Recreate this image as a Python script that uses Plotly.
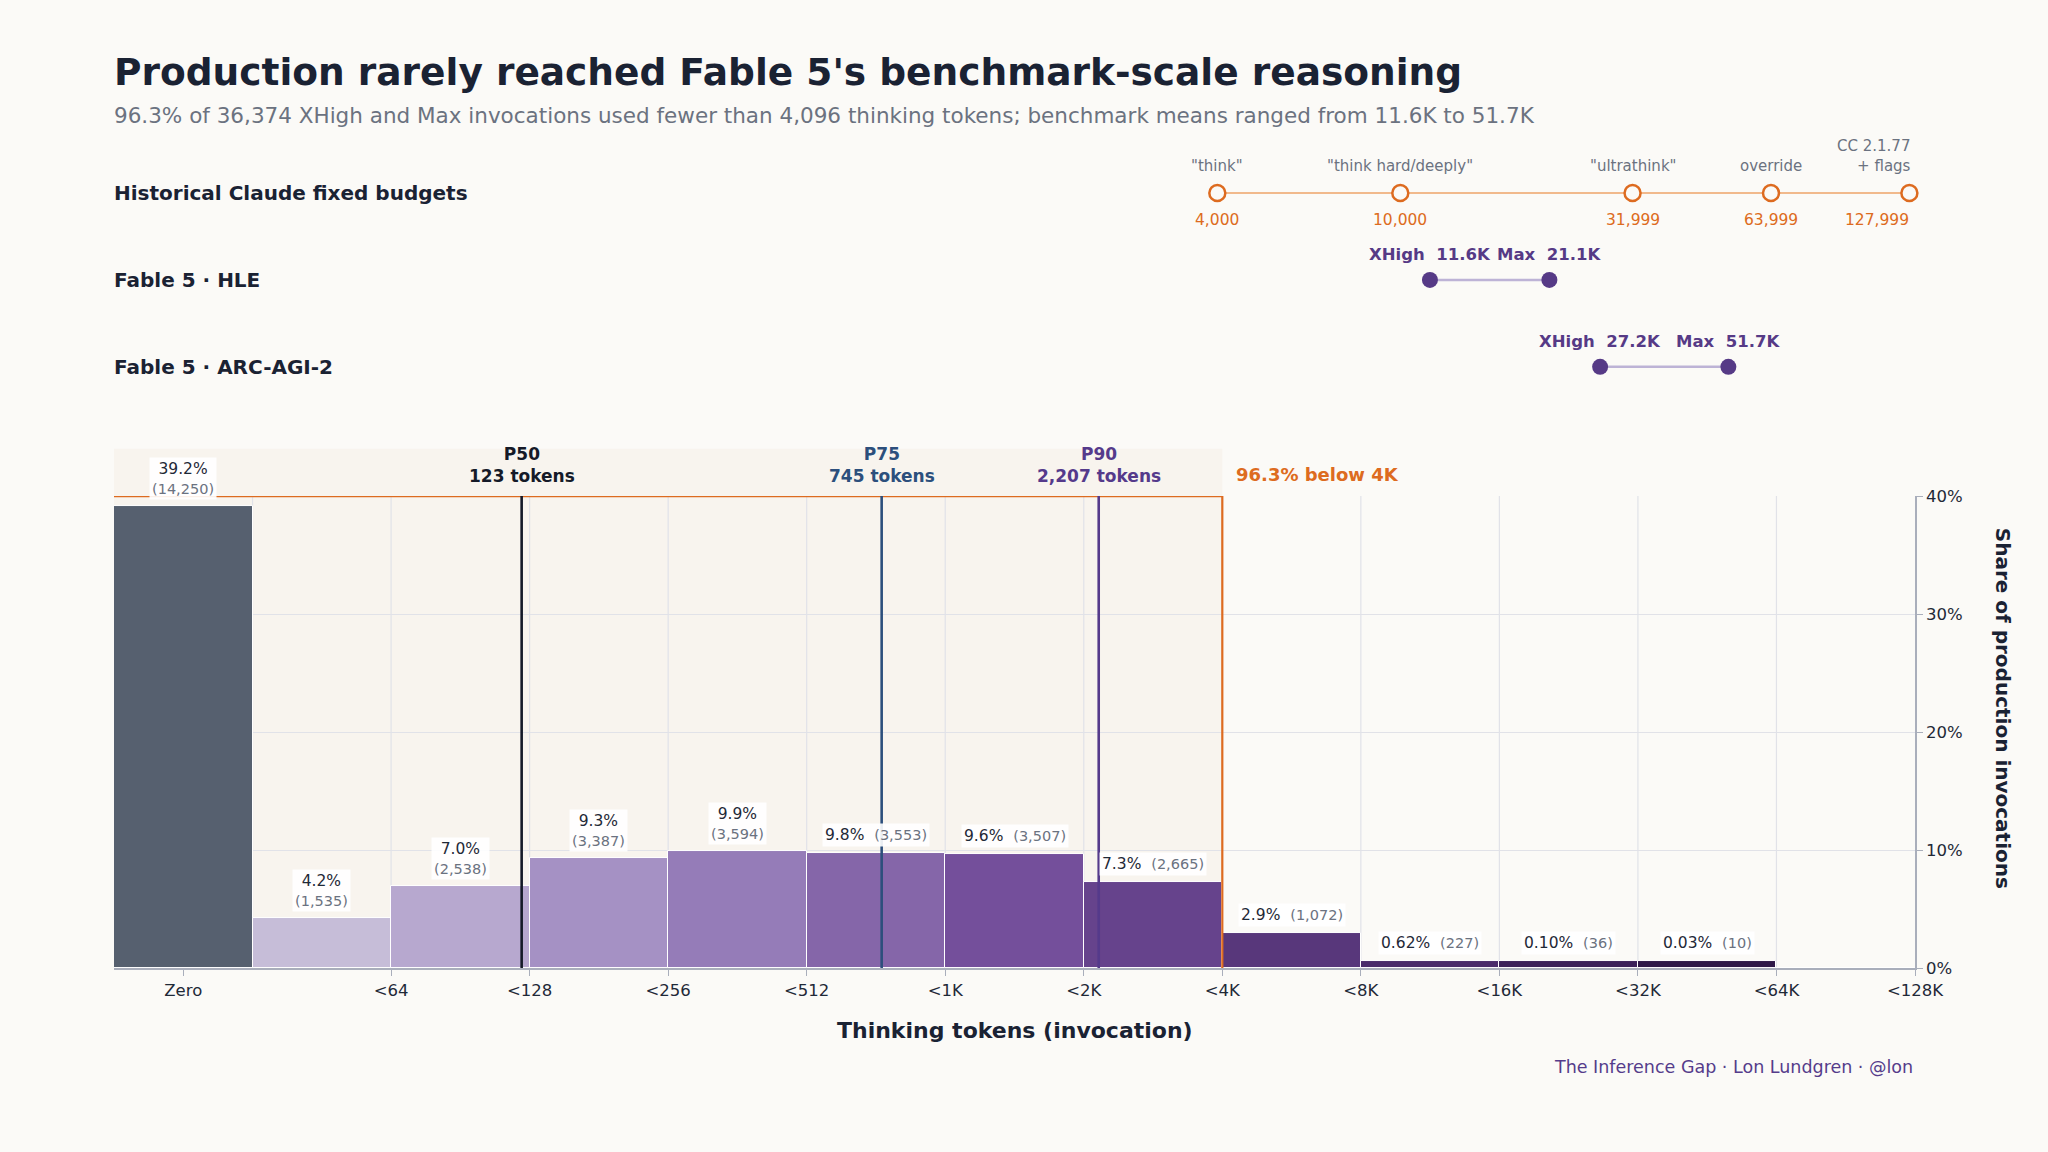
import numpy as np
import plotly.graph_objects as go

FONT = "DejaVu Sans"
BG = "#fbfaf7"
BAND = "#f8f4ee"
INK = "#1a2233"
GRAY = "#6b7280"
GRID = "#e1e2e8"
AXIS = "#a9aebb"
ORANGE = "#dd6b20"
PURPLE = "#563a86"

# production histogram (thinking tokens per invocation)
bin_labels = ["Zero", "<64", "<128", "<256", "<512", "<1K", "<2K", "<4K",
              "<8K", "<16K", "<32K", "<64K", "<128K"]
bin_counts = [14250, 1535, 2538, 3387, 3594, 3553, 3507, 2665, 1072, 227, 36, 10, 0]
bar_colors = ["#56606f", "#c6bdd8", "#b7a8cf", "#a591c4", "#957cb8", "#8566a9",
              "#744f9b", "#66438c", "#58377b", "#4a2b6b", "#3c215a", "#2f1848", "#2a1440"]

# percentiles
pct_names = ["P50", "P75", "P90"]
pct_tokens = [123, 745, 2207]
pct_colors = ["#151a28", "#2c4f7c", "#553a8b"]

# historical fixed budgets
budget_tokens = [4000, 10000, 31999, 63999, 127999]
budget_names = ['"think"', '"think hard/deeply"', '"ultrathink"', "override", "CC 2.1.77<br>+ flags"]

# benchmark means
bench_rows = ["Fable 5 · HLE", "Fable 5 · ARC-AGI-2"]
bench_xhigh = [11600, 27200]
bench_max = [21100, 51700]

y_ticks = [0, 10, 20, 30, 40]

budget_row = "Historical Claude fixed budgets"
rows = [budget_row] + bench_rows

total = sum(bin_counts)
shares = np.array(bin_counts) / total * 100
below_4k = shares[:8].sum()
# tiny bars get a minimum drawn height so they stay visible
shown = np.where(shares > 0, np.maximum(shares, 0.6), 0)
bar_x = np.arange(len(bin_counts)) + 0.5
tickvals = [0.5] + list(range(2, len(bin_labels) + 1))
# "<64" edge sits at 2 -> x = log2(tokens) - 4
pct_x = np.log2(pct_tokens) - 4

fig = go.Figure()

fig.add_trace(go.Bar(
    x=bar_x, y=shown, width=1, marker=dict(color=bar_colors, line=dict(color="white", width=1)),
    xaxis="x", yaxis="y", hoverinfo="skip",
))

# budgets
fig.add_trace(go.Scatter(
    x=budget_tokens, y=[budget_row] * len(budget_tokens), mode="lines+markers",
    line=dict(color="#f1b98c", width=2),
    marker=dict(size=16, color=BG, line=dict(color=ORANGE, width=2.5)),
    xaxis="x2", yaxis="y2", hoverinfo="skip", cliponaxis=False,
))
for row, lo, hi in zip(bench_rows, bench_xhigh, bench_max):
    fig.add_trace(go.Scatter(
        x=[lo, hi], y=[row, row], mode="lines+markers",
        line=dict(color="#bdb3d6", width=2.5),
        marker=dict(size=16, color=PURPLE),
        xaxis="x2", yaxis="y2", hoverinfo="skip", cliponaxis=False,
    ))

shapes = []
# shaded region below 4K
shapes.append(dict(type="rect", xref="x", yref="paper", x0=0, x1=8, y0=0, y1=0.627,
                   fillcolor=BAND, line=dict(width=0), layer="below"))
for gx in range(1, len(bin_labels)):
    shapes.append(dict(type="line", xref="x", yref="y", x0=gx, x1=gx, y0=0, y1=40,
                       line=dict(color=GRID, width=1.2), layer="below"))
shapes.append(dict(type="line", xref="x", yref="y", x0=0, x1=8, y0=40, y1=40,
                   line=dict(color=ORANGE, width=2.2)))
shapes.append(dict(type="line", xref="x", yref="y", x0=8, x1=8, y0=0, y1=40,
                   line=dict(color=ORANGE, width=2.2)))
for px, col in zip(pct_x, pct_colors):
    shapes.append(dict(type="line", xref="x", yref="y", x0=px, x1=px, y0=0, y1=40,
                       line=dict(color=col, width=2.6)))

ann = []
ann.append(dict(text="<b>Production rarely reached Fable 5's benchmark-scale reasoning</b>",
                xref="paper", yref="paper", x=0, y=1.082, xanchor="left", yanchor="middle",
                xshift=-2, showarrow=False, font=dict(size=37.5, color=INK)))
ann.append(dict(text=f"{below_4k:.1f}% of {total:,} XHigh and Max invocations used fewer than 4,096 "
                     "thinking tokens; benchmark means ranged from 11.6K to 51.7K",
                xref="paper", yref="paper", x=0, y=1.029, xanchor="left", yanchor="middle",
                xshift=-2, showarrow=False, font=dict(size=21.5, color=GRAY)))

for row in rows:
    ann.append(dict(text=f"<b>{row}</b>", xref="paper", yref="y2", x=0, y=row,
                    xanchor="left", yanchor="middle", xshift=-2, showarrow=False,
                    font=dict(size=20, color=INK)))

for i, (b, name) in enumerate(zip(budget_tokens, budget_names)):
    last = i == len(budget_tokens) - 1
    ann.append(dict(text=name, xref="x2", yref="y2", x=np.log10(b), y=budget_row,
                    xanchor="right" if last else "center", align="right" if last else "center",
                    xshift=4 if last else 0,
                    yanchor="bottom", yshift=16, showarrow=False,
                    font=dict(size=15, color=GRAY)))
    ann.append(dict(text=f"{b:,}", xref="x2", yref="y2", x=np.log10(b), y=budget_row,
                    xanchor="right" if last else "center", xshift=2 if last else 0,
                    yanchor="top", yshift=-16,
                    showarrow=False, font=dict(size=15.5, color=ORANGE)))

for row, lo, hi in zip(bench_rows, bench_xhigh, bench_max):
    for tag, v in (("XHigh", lo), ("Max", hi)):
        ann.append(dict(text=f"<b>{tag}\u00a0\u00a0{v / 1000:.1f}K</b>", xref="x2", yref="y2",
                        x=np.log10(v), y=row, xanchor="center", yanchor="bottom", yshift=14,
                        showarrow=False, font=dict(size=16.5, color=PURPLE)))

for name, tok, px, col in zip(pct_names, pct_tokens, pct_x, pct_colors):
    ann.append(dict(text=f"<b>{name}<br>{tok:,} tokens</b>", xref="x", yref="paper",
                    x=px, y=0.607, xanchor="center", yanchor="middle", showarrow=False,
                    font=dict(size=17, color=col)))

ann.append(dict(text=f"<b>{below_4k:.1f}% below 4K</b>", xref="x", yref="paper", x=8, y=0.5966,
                xanchor="left", yanchor="middle", xshift=12, showarrow=False,
                font=dict(size=18, color=ORANGE)))

for i, (x, h, s, c) in enumerate(zip(bar_x, shown, shares, bin_counts)):
    if c == 0:
        continue
    pct = f"{s:.1f}%" if s >= 1 else f"{s:.2f}%"
    if i < 5:
        txt = f"{pct}<br><span style='color:{GRAY};font-size:14.5px'>({c:,})</span>"
    else:
        txt = f"{pct}\u00a0\u00a0<span style='color:{GRAY};font-size:14.5px'>({c:,})</span>"
    ann.append(dict(text=txt, xref="x", yref="y", x=x, y=h, xanchor="center", yanchor="bottom",
                    yshift=6, showarrow=False, bgcolor="rgba(255,255,255,0.9)", borderpad=2,
                    font=dict(size=15.5, color="#1f2937")))

ann.append(dict(text="<b>Thinking tokens (invocation)</b>", xref="paper", yref="paper",
                x=0.5, y=-0.075, xanchor="center", yanchor="middle", showarrow=False,
                font=dict(size=22, color=INK)))
ann.append(dict(text="<b>Share of production invocations</b>", xref="paper", yref="paper",
                x=1.049, y=0.314, xanchor="center", yanchor="middle", textangle=90,
                showarrow=False, font=dict(size=20, color=INK)))
ann.append(dict(text="The Inference Gap · Lon Lundgren · @lon", xref="paper", yref="paper",
                x=1, y=-0.1196, xanchor="right", yanchor="middle", showarrow=False,
                font=dict(size=17.5, color="#553c8b")))

fig.update_layout(
    width=2048, height=1152,
    margin=dict(l=114, r=133, t=140, b=184),
    paper_bgcolor=BG, plot_bgcolor="rgba(0,0,0,0)",
    font=dict(family=FONT, color="#1f2937", size=16),
    showlegend=False, hovermode=False, bargap=0,
    shapes=shapes, annotations=ann,
    xaxis=dict(domain=[0, 1], range=[0, len(bin_labels)], anchor="y",
               tickvals=tickvals, ticktext=bin_labels, showgrid=False, zeroline=False,
               showline=True, linecolor=AXIS, linewidth=1.5, ticks="outside", ticklen=6,
               tickcolor=AXIS, tickfont=dict(size=16.5, color="#1f2937")),
    yaxis=dict(domain=[0, 0.570], range=[0, 40], side="right", anchor="x",
               tickvals=y_ticks, ticktext=[f"{t}%" for t in y_ticks], showgrid=True, gridcolor=GRID,
               gridwidth=1.2, zeroline=False, showline=True, linecolor=AXIS, linewidth=1.5,
               ticks="outside", ticklen=6, tickcolor=AXIS, tickfont=dict(size=16.5, color="#1f2937")),
    xaxis2=dict(domain=[0, 1], type="log", range=[1.2025, 5.1194], anchor="y2", visible=False),
    yaxis2=dict(domain=[0.663, 0.999], type="category", categoryarray=rows,
                range=[2.6, -0.6], anchor="x2", visible=False),
)

fig.write_html("out.html", config={"displayModeBar": False},
               post_script="document.body.style.margin='0';")
